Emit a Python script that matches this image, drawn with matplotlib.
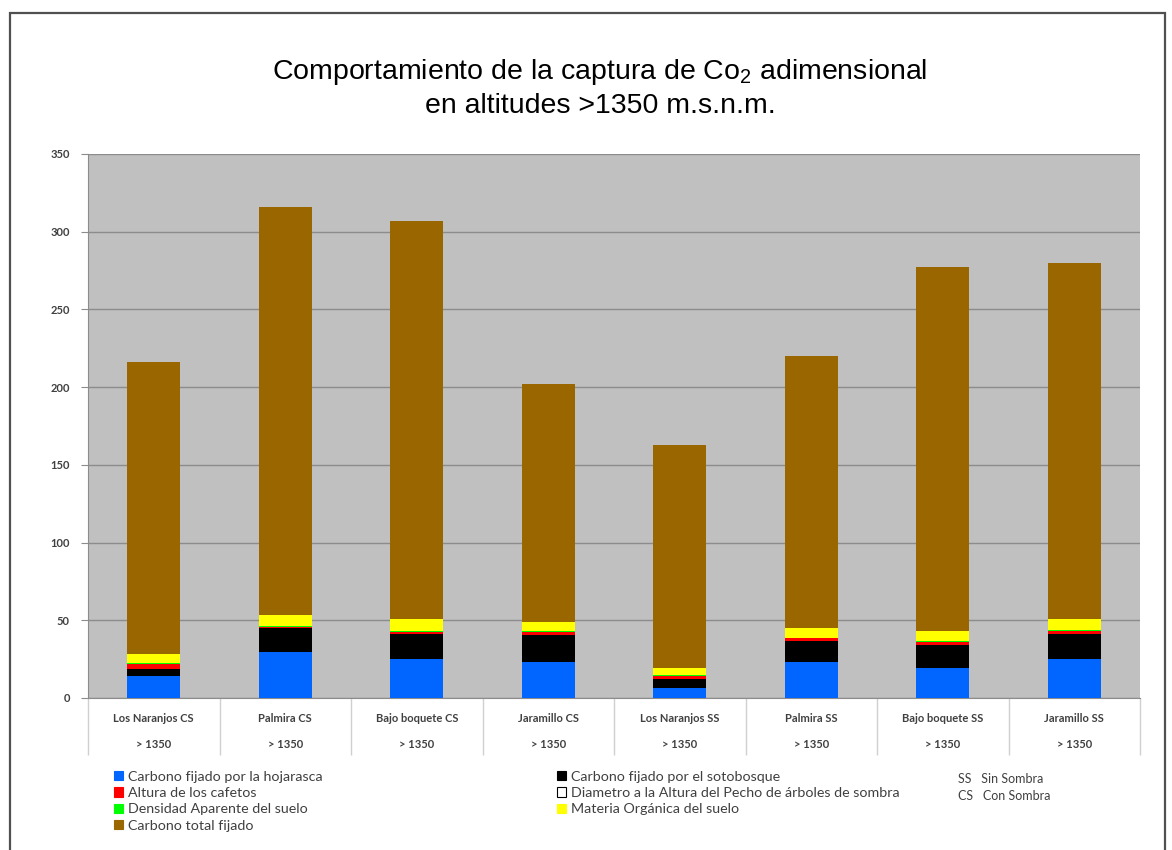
import numpy as np
import matplotlib.pyplot as plt
from matplotlib.patches import Rectangle, Patch

#data
#-----------------------------------------------------------------------------#
sitios = ["Los Naranjos CS", "Palmira CS", "Bajo boquete CS", "Jaramillo CS",
          "Los Naranjos SS", "Palmira SS", "Bajo boquete SS", "Jaramillo SS"]
altitud = ["> 1350"] * 8

hojarasca  = [14.2, 29.8, 25.1, 23.4, 6.2, 23.4, 19.1, 25.1]
sotobosque = [4.5, 15.0, 15.9, 17.1, 6.0, 13.3, 15.0, 15.9]
cafetos    = [3.0, 1.0, 1.7, 2.0, 2.0, 1.7, 2.1, 2.1]
diametro   = [0, 0, 0, 0, 0, 0, 0, 0]
densidad   = [0.5, 0.5, 0.5, 0.5, 0.5, 0.5, 0.5, 0.5]
materia    = [5.9, 7.1, 7.4, 6.1, 4.4, 6.3, 6.4, 7.0]
total      = [187.9, 262.6, 256.4, 152.9, 143.9, 174.8, 233.9, 229.4]

series = [
    ("Carbono fijado por la hojarasca", hojarasca, "#0066ff"),
    ("Carbono fijado por el sotobosque", sotobosque, "#000000"),
    ("Altura de los cafetos", cafetos, "#ff0000"),
    ("Diametro a la Altura del Pecho de árboles de sombra", diametro, "#ffffff"),
    ("Densidad Aparente del suelo", densidad, "#00ff00"),
    ("Materia Orgánica del suelo", materia, "#ffff00"),
    ("Carbono total fijado", total, "#996600"),
]

plt.rcParams["mathtext.fontset"] = "custom"
plt.rcParams["mathtext.rm"] = "Liberation Sans"
plt.rcParams["mathtext.it"] = "Liberation Sans:italic"

small = ["Lato", "DejaVu Sans"]
txtc = "#404040"

#figure
#-----------------------------------------------------------------------------#
fig = plt.figure(figsize=(11.72, 8.5), dpi=100)
fig.patches.append(Rectangle((10/1172, -0.01), 1155/1172, 1.01 - 13/850,
                             transform=fig.transFigure, fill=False,
                             edgecolor="#505050", lw=1.6))

ax = fig.add_axes([88/1172, 1 - 698/850, 1052/1172, 544/850])
ax.set_facecolor("#c0c0c0")

x = np.arange(len(sitios))
bottom = np.zeros(len(sitios))
handles = {}
for name, vals, col in series:
    vals = np.array(vals, dtype=float)
    ax.bar(x, vals, 0.4, bottom=bottom, color=col, linewidth=0, zorder=3)
    bottom += vals
    handles[name] = Patch(facecolor=col, edgecolor="black" if col == "#ffffff" else col, lw=0.8)

ax.set_xlim(-0.5, len(sitios) - 0.5)
ax.set_ylim(0, 350)
ax.set_yticks(np.arange(0, 351, 50))
ax.grid(axis="y", color="#8c8c8c", lw=1, zorder=1)
ax.set_xticks([])
for s in ["top", "right"]:
    ax.spines[s].set_visible(False)
for s in ["left", "bottom"]:
    ax.spines[s].set_color("#8c8c8c")
ax.tick_params(axis="y", length=5, color="#8c8c8c", pad=8)
for lab in ax.get_yticklabels():
    lab.set_fontfamily(small)
    lab.set_fontweight("bold")
    lab.set_fontsize(8)
    lab.set_color(txtc)

#category table under the axis
#-----------------------------------------------------------------------------#
tr = ax.get_xaxis_transform()
ax.vlines(np.arange(len(sitios) + 1) - 0.5, -57/544, 0, transform=tr,
          color="#d0d0d0", lw=1, clip_on=False)
for i in x:
    ax.text(i, -20/544, sitios[i], transform=tr, ha="center", va="center",
            family=small, weight="bold", fontsize=8, color=txtc)
    ax.text(i, -46/544, altitud[i], transform=tr, ha="center", va="center",
            family=small, weight="bold", fontsize=8, color=txtc)

#title
#-----------------------------------------------------------------------------#
fig.text(0.512, 1 - 72/850, "Comportamiento de la captura de Co$_2$ adimensional",
         ha="center", va="center", family="Liberation Sans", fontsize=20.5)
fig.text(0.512, 1 - 106/850, "en altitudes >1350 m.s.n.m.",
         ha="center", va="center", family="Liberation Sans", fontsize=20.5)

#legend
#-----------------------------------------------------------------------------#
col1 = [series[i][0] for i in (0, 2, 4, 6)]
col2 = [series[i][0] for i in (1, 3, 5)]
kw = dict(frameon=False, handlelength=0.65, handleheight=0.65,
          handletextpad=0.35, labelspacing=0.3, borderaxespad=0,
          prop={"family": small, "size": 10.3}, labelcolor=txtc)
fig.legend([handles[n] for n in col1], col1, loc="upper left",
           bbox_to_anchor=(108/1172, 1 - 765/850), **kw)
fig.legend([handles[n] for n in col2], col2, loc="upper left",
           bbox_to_anchor=(551/1172, 1 - 765/850), **kw)

fig.text(958/1172, 1 - 779/850, "SS   Sin Sombra", ha="left", va="center",
         family=small, fontsize=9, color=txtc)
fig.text(958/1172, 1 - 796/850, "CS   Con Sombra", ha="left", va="center",
         family=small, fontsize=9, color=txtc)

fig.savefig("out.png", dpi=100)
